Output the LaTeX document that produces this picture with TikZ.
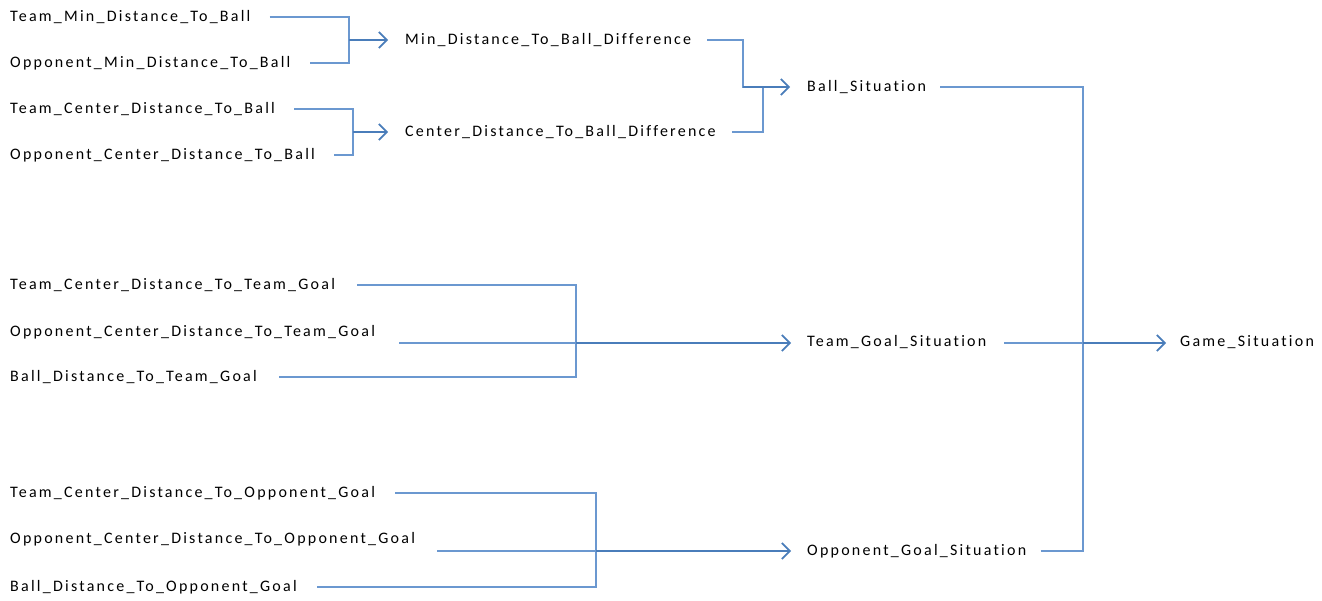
\documentclass[tikz,border=0pt]{standalone}
\usepackage{fontspec}
\setmainfont{Carlito}[LetterSpace=14,Ligatures={NoCommon}]
\usetikzlibrary{arrows.meta}
\definecolor{lineblue}{HTML}{6B98D0}
\definecolor{arrblue}{HTML}{4A7DBA}
\begin{document}
\begin{tikzpicture}[x=1pt,y=-1pt,
  lbl/.style={anchor=west,inner sep=0pt,font=\fontsize{16}{19}\selectfont},
  ln/.style={draw=lineblue,line width=1.3pt},
  arr/.style={draw=arrblue,line width=1.4pt,-{Straight Barb[length=8pt,width=16pt,line width=1.7pt]}},
  arrthick/.style={arr,line width=2pt}]
\useasboundingbox (0,0) rectangle (1322,601);
% labels
\node[lbl] (tmb)  at (10,17)  {Team\_Min\_Distance\_To\_Ball};
\node[lbl] (omb)  at (10,63)  {Opponent\_Min\_Distance\_To\_Ball};
\node[lbl] (tcb)  at (10,109) {Team\_Center\_Distance\_To\_Ball};
\node[lbl] (ocb)  at (10,155) {Opponent\_Center\_Distance\_To\_Ball};
\node[lbl] (mbd)  at (405,40) {Min\_Distance\_To\_Ball\_Difference};
\node[lbl] (cbd)  at (405,132) {Center\_Distance\_To\_Ball\_Difference};
\node[lbl] (bs)   at (807,87) {Ball\_Situation};
\node[lbl] (tctg) at (10,285) {Team\_Center\_Distance\_To\_Team\_Goal};
\node[lbl] (octg) at (10,332) {Opponent\_Center\_Distance\_To\_Team\_Goal};
\node[lbl] (btg)  at (10,377) {Ball\_Distance\_To\_Team\_Goal};
\node[lbl] (tgs)  at (807,342) {Team\_Goal\_Situation};
\node[lbl] (tcog) at (10,493) {Team\_Center\_Distance\_To\_Opponent\_Goal};
\node[lbl] (ocog) at (10,539) {Opponent\_Center\_Distance\_To\_Opponent\_Goal};
\node[lbl] (bog)  at (10,587) {Ball\_Distance\_To\_Opponent\_Goal};
\node[lbl] (ogs)  at (807,551) {Opponent\_Goal\_Situation};
\node[lbl] (gs)   at (1180,342) {Game\_Situation};
% junctions
\coordinate (j1) at (349,40);
\coordinate (j2) at (353,132);
\coordinate (j3) at (743,87);
\coordinate (j4) at (763,87);
\coordinate (j5) at (1083,343);
\coordinate (j6) at (576,343);
\coordinate (j7) at (596,551);
% top groups
\draw[ln] ([xshift=19]tmb.east) -| (j1) |- ([xshift=19]omb.east);
\draw[arr] (j1) -- ([xshift=-17]mbd.west);
\draw[ln] ([xshift=19]tcb.east) -| (j2) |- ([xshift=19]ocb.east);
\draw[arr] (j2) -- ([xshift=-17]cbd.west);
\draw[ln] ([xshift=16]mbd.east) -| (j3) -- (j4);
\draw[ln] ([xshift=16]cbd.east) -| (j4);
\draw[arr] (j3) -- ([xshift=-17]bs.west);
% team goal group
\draw[ln] ([xshift=22]tctg.east) -| (j6) |- ([xshift=22]btg.east);
\draw[ln] ([xshift=24]octg.east |- j6) -- (j6);
\draw[arrthick] (j6) -- ([xshift=-16]tgs.west |- j6);
% opponent goal group
\draw[ln] ([xshift=20]tcog.east) -| (j7) |- ([xshift=20]bog.east);
\draw[ln] ([xshift=22]ocog.east |- j7) -- (j7);
\draw[arrthick] (j7) -- ([xshift=-16]ogs.west);
% game situation
\draw[ln] ([xshift=14]bs.east) -| (j5);
\draw[ln] ([xshift=14]ogs.east) -| (j5);
\draw[ln] ([xshift=18]tgs.east |- j5) -- (j5);
\draw[arr] (j5) -- ([xshift=-14]gs.west |- j5);
\end{tikzpicture}
\end{document}
